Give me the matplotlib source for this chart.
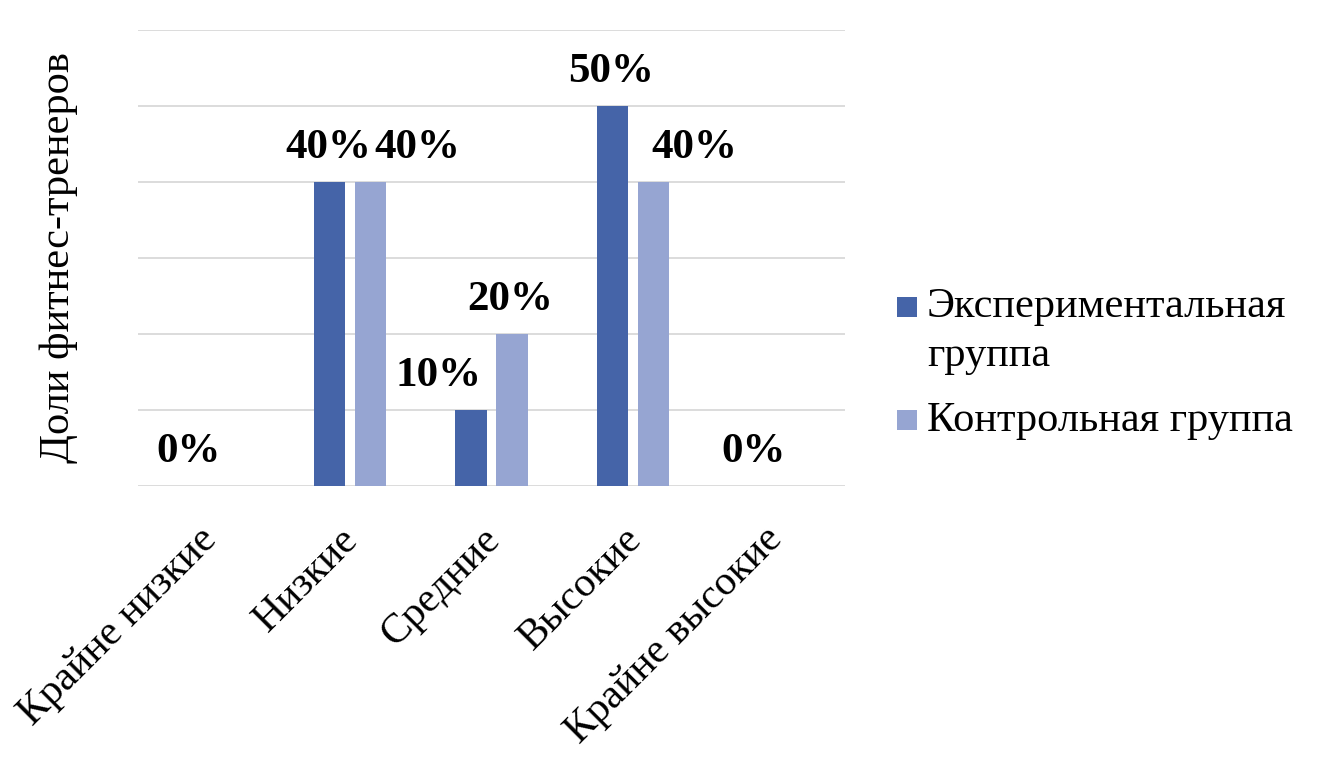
import matplotlib
matplotlib.use("Agg")
import matplotlib.pyplot as plt
import matplotlib.transforms as mtransforms
from matplotlib.patches import Rectangle
import numpy as np

categories = ["Крайне низкие", "Низкие", "Средние", "Высокие", "Крайне высокие"]
exp_vals = [0, 40, 10, 50, 0]
ctrl_vals = [0, 40, 20, 40, 0]
series_names = ["Экспериментальная\nгруппа", "Контрольная группа"]
colors = ["#4564A8", "#96A5D2"]

# horizontal nudges of the data labels (pixels), as placed in the original
exp_label_dx = [0, -1, -32, -1, 0]
ctrl_label_dx = [0, 47, -2, 41, 0]
show_ctrl_zero = False

plt.rcParams['font.family'] = ['Liberation Serif', 'DejaVu Serif']

W, H = 1325, 766
fig = plt.figure(figsize=(W / 100, H / 100), dpi=100)
ax = fig.add_axes([138 / W, 1 - 486 / H, 707 / W, 456 / H])

x = np.arange(len(categories))
w = 0.222
off = 0.145
b1 = ax.bar(x - off, exp_vals, w, color=colors[0], label=series_names[0], zorder=3)
b2 = ax.bar(x + off, ctrl_vals, w, color=colors[1], label=series_names[1], zorder=3)

def add_labels(bars, vals, dxs, skip_zero):
    for rect, v, dx in zip(bars, vals, dxs):
        if v == 0 and skip_zero:
            continue
        cx = rect.get_x() + rect.get_width() / 2
        ax.annotate(f"{v}%", (cx, v), xytext=(dx * 0.72, 17.5), textcoords="offset points",
                    ha="center", va="baseline", fontsize=31, fontweight="bold")

add_labels(b1, exp_vals, exp_label_dx, False)
add_labels(b2, ctrl_vals, ctrl_label_dx, not show_ctrl_zero)

ax.set_xlim(-0.5, 4.5)
ax.set_ylim(0, 60)
ax.set_yticks(np.arange(0, 61, 10))
ax.set_yticklabels([])
ax.tick_params(axis='y', length=0)
ax.tick_params(axis='x', length=0, pad=24.5)
ax.yaxis.grid(True, color="#D9D9D9", linewidth=1.3, zorder=0)
ax.set_axisbelow(True)
for s in ax.spines.values():
    s.set_visible(False)

ax.set_xticks(x)
ax.set_xticklabels(categories, rotation=45, ha="right", va="top",
                   rotation_mode="anchor", fontsize=30)
shift = mtransforms.ScaledTranslation(-11 / 100, 0, fig.dpi_scale_trans)
for lbl in ax.get_xticklabels():
    lbl.set_transform(lbl.get_transform() + shift)

ax.set_ylabel("Доли фитнес-тренеров", fontsize=30.5)
ax.yaxis.label.set_va("center")
ax.yaxis.set_label_coords((59 - 138) / 707, 0.5)

# legend (handles aligned with the first text line, as in the original)
leg_items = [(series_names[0], colors[0], 297, 366), (series_names[1], colors[1], 410, 431)]
for name, col, top, base in leg_items:
    fig.patches.append(Rectangle((897 / W, 1 - (top + 20) / H), 20 / W, 20 / H,
                                 transform=fig.transFigure, facecolor=col,
                                 edgecolor="none", figure=fig))
    fig.text(927 / W, 1 - base / H, name, fontsize=30.5, ha="left",
             va="baseline", linespacing=1.37)

fig.savefig("out.png", dpi=100)
